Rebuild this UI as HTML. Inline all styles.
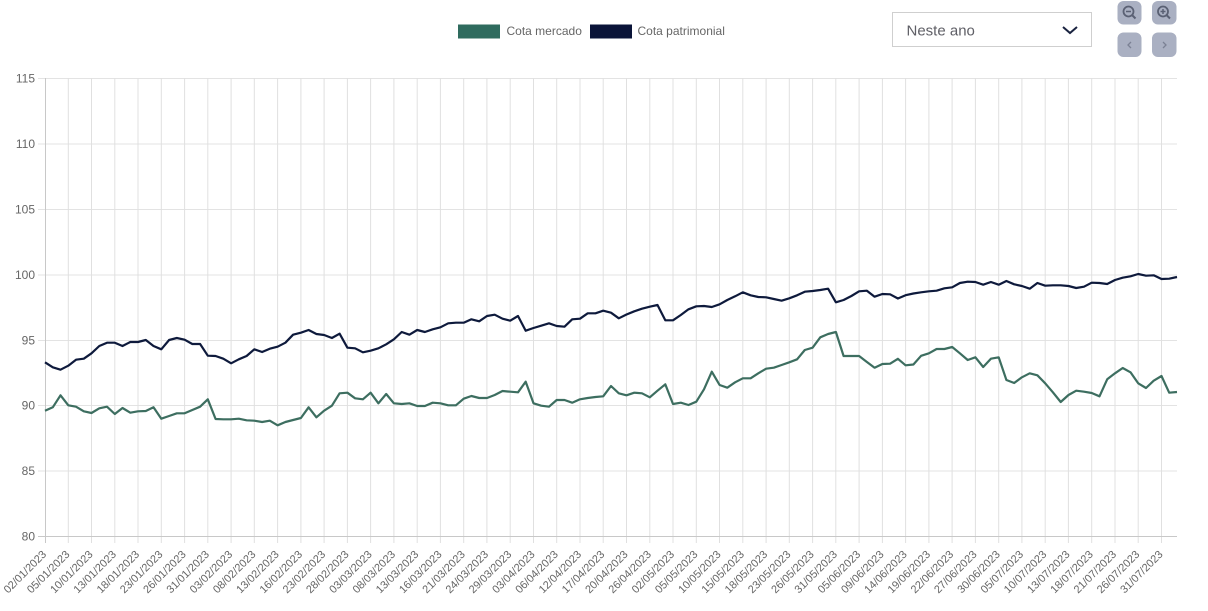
<!DOCTYPE html>
<html>
<head>
<meta charset="utf-8">
<style>
html,body{margin:0;padding:0;background:#fff;width:1208px;height:611px;overflow:hidden;}
svg{display:block;}
text{font-family:"Liberation Sans",sans-serif;}
</style>
</head>
<body>
<svg width="1208" height="611" viewBox="0 0 1208 611" xmlns="http://www.w3.org/2000/svg">
<!-- legend -->
<rect x="458" y="24.5" width="42" height="14" fill="#2f6b5e"/>
<text x="506.5" y="35" font-size="12" fill="#666">Cota mercado</text>
<rect x="590" y="24.5" width="42" height="14" fill="#0a1438"/>
<text x="637.5" y="35" font-size="12" fill="#666">Cota patrimonial</text>

<!-- dropdown -->
<rect x="892.5" y="12.5" width="199" height="34" fill="#fff" stroke="#cfcfcf" stroke-width="1"/>
<text x="906.5" y="35.5" font-size="15" fill="#5f5f66">Neste ano</text>
<polyline points="1063,27 1070,33 1077,27" fill="none" stroke="#1a2340" stroke-width="2"/>

<!-- buttons -->
<rect x="1117.5" y="1" width="24" height="23.5" rx="6" fill="#aab0c2"/>
<rect x="1152" y="1" width="24.5" height="23.5" rx="6" fill="#aab0c2"/>
<rect x="1117.5" y="32.5" width="24" height="24.5" rx="6" fill="#aab0c2"/>
<rect x="1152" y="32.5" width="24.5" height="24.5" rx="6" fill="#aab0c2"/>
<circle cx="1128.5" cy="11.5" r="5" fill="none" stroke="#5b6174" stroke-width="1.8"/>
<line x1="1132" y1="15" x2="1135.5" y2="18.5" stroke="#5b6174" stroke-width="2"/>
<line x1="1126" y1="11.5" x2="1131" y2="11.5" stroke="#5b6174" stroke-width="1.5"/>
<circle cx="1163" cy="11.5" r="5" fill="none" stroke="#5b6174" stroke-width="1.8"/>
<line x1="1166.5" y1="15" x2="1170" y2="18.5" stroke="#5b6174" stroke-width="2"/>
<line x1="1160.5" y1="11.5" x2="1165.5" y2="11.5" stroke="#5b6174" stroke-width="1.5"/>
<line x1="1163" y1="9" x2="1163" y2="14" stroke="#5b6174" stroke-width="1.5"/>
<polyline points="1131,42 1128,45 1131,48" fill="none" stroke="#7b8194" stroke-width="1.3"/>
<polyline points="1163,42 1166,45 1163,48" fill="none" stroke="#7b8194" stroke-width="1.3"/>

<!-- horizontal grid -->
<g stroke="#e3e3e3" stroke-width="1">
<line x1="38" y1="78.5" x2="1177" y2="78.5"/>
<line x1="38" y1="144" x2="1177" y2="144"/>
<line x1="38" y1="209.5" x2="1177" y2="209.5"/>
<line x1="38" y1="275" x2="1177" y2="275"/>
<line x1="38" y1="340.5" x2="1177" y2="340.5"/>
<line x1="38" y1="405.5" x2="1177" y2="405.5"/>
<line x1="38" y1="471" x2="1177" y2="471"/>
</g>
<!-- vertical grid -->
<g stroke="#e0e0e0" stroke-width="1">
<line x1="68.3" y1="78" x2="68.3" y2="543"/>
<line x1="91.5" y1="78" x2="91.5" y2="543"/>
<line x1="114.8" y1="78" x2="114.8" y2="543"/>
<line x1="138" y1="78" x2="138" y2="543"/>
<line x1="161.3" y1="78" x2="161.3" y2="543"/>
<line x1="184.6" y1="78" x2="184.6" y2="543"/>
<line x1="207.8" y1="78" x2="207.8" y2="543"/>
<line x1="231.1" y1="78" x2="231.1" y2="543"/>
<line x1="254.3" y1="78" x2="254.3" y2="543"/>
<line x1="277.6" y1="78" x2="277.6" y2="543"/>
<line x1="300.9" y1="78" x2="300.9" y2="543"/>
<line x1="324.1" y1="78" x2="324.1" y2="543"/>
<line x1="347.4" y1="78" x2="347.4" y2="543"/>
<line x1="370.6" y1="78" x2="370.6" y2="543"/>
<line x1="393.9" y1="78" x2="393.9" y2="543"/>
<line x1="417.2" y1="78" x2="417.2" y2="543"/>
<line x1="440.4" y1="78" x2="440.4" y2="543"/>
<line x1="463.7" y1="78" x2="463.7" y2="543"/>
<line x1="486.9" y1="78" x2="486.9" y2="543"/>
<line x1="510.2" y1="78" x2="510.2" y2="543"/>
<line x1="533.5" y1="78" x2="533.5" y2="543"/>
<line x1="556.7" y1="78" x2="556.7" y2="543"/>
<line x1="580" y1="78" x2="580" y2="543"/>
<line x1="603.2" y1="78" x2="603.2" y2="543"/>
<line x1="626.5" y1="78" x2="626.5" y2="543"/>
<line x1="649.8" y1="78" x2="649.8" y2="543"/>
<line x1="673" y1="78" x2="673" y2="543"/>
<line x1="696.3" y1="78" x2="696.3" y2="543"/>
<line x1="719.5" y1="78" x2="719.5" y2="543"/>
<line x1="742.8" y1="78" x2="742.8" y2="543"/>
<line x1="766.1" y1="78" x2="766.1" y2="543"/>
<line x1="789.3" y1="78" x2="789.3" y2="543"/>
<line x1="812.6" y1="78" x2="812.6" y2="543"/>
<line x1="835.8" y1="78" x2="835.8" y2="543"/>
<line x1="859.1" y1="78" x2="859.1" y2="543"/>
<line x1="882.4" y1="78" x2="882.4" y2="543"/>
<line x1="905.6" y1="78" x2="905.6" y2="543"/>
<line x1="928.9" y1="78" x2="928.9" y2="543"/>
<line x1="952.1" y1="78" x2="952.1" y2="543"/>
<line x1="975.4" y1="78" x2="975.4" y2="543"/>
<line x1="998.7" y1="78" x2="998.7" y2="543"/>
<line x1="1021.9" y1="78" x2="1021.9" y2="543"/>
<line x1="1045.2" y1="78" x2="1045.2" y2="543"/>
<line x1="1068.4" y1="78" x2="1068.4" y2="543"/>
<line x1="1091.7" y1="78" x2="1091.7" y2="543"/>
<line x1="1115" y1="78" x2="1115" y2="543"/>
<line x1="1138.2" y1="78" x2="1138.2" y2="543"/>
<line x1="1161.5" y1="78" x2="1161.5" y2="543"/>
</g>
<!-- axes -->
<line x1="45.5" y1="78" x2="45.5" y2="543" stroke="#c8c8c8" stroke-width="1"/>
<line x1="38" y1="536.5" x2="1177" y2="536.5" stroke="#c8c8c8" stroke-width="1"/>

<!-- y labels -->
<g font-size="12" fill="#666" text-anchor="end">
<text x="35" y="82.5">115</text>
<text x="35" y="148">110</text>
<text x="35" y="213.5">105</text>
<text x="35" y="279">100</text>
<text x="35" y="344.5">95</text>
<text x="35" y="409.5">90</text>
<text x="35" y="475">85</text>
<text x="35" y="540.5">80</text>
</g>

<!-- x labels -->
<g font-size="11" fill="#666" text-anchor="end">
<text transform="translate(47,555) rotate(-45)">02/01/2023</text>
<text transform="translate(70.3,555) rotate(-45)">05/01/2023</text>
<text transform="translate(93.5,555) rotate(-45)">10/01/2023</text>
<text transform="translate(116.8,555) rotate(-45)">13/01/2023</text>
<text transform="translate(140,555) rotate(-45)">18/01/2023</text>
<text transform="translate(163.3,555) rotate(-45)">23/01/2023</text>
<text transform="translate(186.6,555) rotate(-45)">26/01/2023</text>
<text transform="translate(209.8,555) rotate(-45)">31/01/2023</text>
<text transform="translate(233.1,555) rotate(-45)">03/02/2023</text>
<text transform="translate(256.3,555) rotate(-45)">08/02/2023</text>
<text transform="translate(279.6,555) rotate(-45)">13/02/2023</text>
<text transform="translate(302.9,555) rotate(-45)">16/02/2023</text>
<text transform="translate(326.1,555) rotate(-45)">23/02/2023</text>
<text transform="translate(349.4,555) rotate(-45)">28/02/2023</text>
<text transform="translate(372.6,555) rotate(-45)">03/03/2023</text>
<text transform="translate(395.9,555) rotate(-45)">08/03/2023</text>
<text transform="translate(419.2,555) rotate(-45)">13/03/2023</text>
<text transform="translate(442.4,555) rotate(-45)">16/03/2023</text>
<text transform="translate(465.7,555) rotate(-45)">21/03/2023</text>
<text transform="translate(488.9,555) rotate(-45)">24/03/2023</text>
<text transform="translate(512.2,555) rotate(-45)">29/03/2023</text>
<text transform="translate(535.5,555) rotate(-45)">03/04/2023</text>
<text transform="translate(558.7,555) rotate(-45)">06/04/2023</text>
<text transform="translate(582,555) rotate(-45)">12/04/2023</text>
<text transform="translate(605.2,555) rotate(-45)">17/04/2023</text>
<text transform="translate(628.5,555) rotate(-45)">20/04/2023</text>
<text transform="translate(651.8,555) rotate(-45)">26/04/2023</text>
<text transform="translate(675,555) rotate(-45)">02/05/2023</text>
<text transform="translate(698.3,555) rotate(-45)">05/05/2023</text>
<text transform="translate(721.5,555) rotate(-45)">10/05/2023</text>
<text transform="translate(744.8,555) rotate(-45)">15/05/2023</text>
<text transform="translate(768.1,555) rotate(-45)">18/05/2023</text>
<text transform="translate(791.3,555) rotate(-45)">23/05/2023</text>
<text transform="translate(814.6,555) rotate(-45)">26/05/2023</text>
<text transform="translate(837.8,555) rotate(-45)">31/05/2023</text>
<text transform="translate(861.1,555) rotate(-45)">05/06/2023</text>
<text transform="translate(884.4,555) rotate(-45)">09/06/2023</text>
<text transform="translate(907.6,555) rotate(-45)">14/06/2023</text>
<text transform="translate(930.9,555) rotate(-45)">19/06/2023</text>
<text transform="translate(954.1,555) rotate(-45)">22/06/2023</text>
<text transform="translate(977.4,555) rotate(-45)">27/06/2023</text>
<text transform="translate(1000.7,555) rotate(-45)">30/06/2023</text>
<text transform="translate(1023.9,555) rotate(-45)">05/07/2023</text>
<text transform="translate(1047.2,555) rotate(-45)">10/07/2023</text>
<text transform="translate(1070.4,555) rotate(-45)">13/07/2023</text>
<text transform="translate(1093.7,555) rotate(-45)">18/07/2023</text>
<text transform="translate(1117,555) rotate(-45)">21/07/2023</text>
<text transform="translate(1140.2,555) rotate(-45)">26/07/2023</text>
<text transform="translate(1163.5,555) rotate(-45)">31/07/2023</text>
</g>

<!-- Cota patrimonial -->
<polyline fill="none" stroke="#0e1a3c" stroke-width="2.2" stroke-linejoin="round" points="45,362.3 52.8,367.3 60.5,369.7 68.3,365.7 76.0,359.7 83.8,358.7 91.5,353.3 99.3,346 107.0,342.7 114.8,342.7 122.5,346 130.3,342 138.0,342 145.8,340 153.5,346 161.3,349.3 169.1,340 176.8,338 184.6,339.7 192.3,344 200.1,344 207.8,355.7 215.6,356 223.3,358.7 231.1,363.3 238.8,359.3 246.6,356 254.3,349.3 262.1,352 269.8,348.7 277.6,346.7 285.4,342.7 293.1,334.7 300.9,332.7 308.6,330 316.4,334 324.1,335 331.9,338 339.6,333.7 347.4,347.7 355.1,348.3 362.9,352.3 370.6,350.7 378.4,348.3 386.2,344.3 393.9,339.3 401.7,332 409.4,334.7 417.2,330 424.9,332 432.7,329.3 440.4,327.3 448.2,323.3 455.9,322.7 463.7,322.7 471.4,319.3 479.2,321.3 487.0,316 494.7,314.7 502.5,318.7 510.2,320.7 518.0,316 525.7,330.7 533.5,328 541.2,325.7 549.0,323.3 556.7,326 564.5,326.7 572.2,319.3 580.0,318.7 587.7,313.3 595.5,313.3 603.2,310.7 611.0,312.7 618.8,318.3 626.5,314.5 634.3,311.3 642.0,308.7 649.8,306.7 657.5,305 665.3,320.3 673.0,320.3 680.8,315 688.5,309.3 696.3,306.3 704.0,306 711.8,307 719.6,304.3 727.3,300 735.1,296.3 742.8,292.3 750.6,295.3 758.3,297 766.1,297.3 773.8,299 781.6,300.7 789.3,298.3 797.1,295.3 804.8,291.7 812.6,291 820.3,290 828.1,288.7 835.9,302.3 843.6,300 851.4,296 859.1,291.3 866.9,290.7 874.6,296.7 882.4,294 890.1,294.3 897.9,298.5 905.6,295.2 913.4,293.5 921.1,292.3 928.9,291.3 936.6,290.7 944.4,288.3 952.2,287.3 959.9,283 967.7,281.7 975.4,282 983.2,284.7 990.9,282 998.7,284.7 1006.4,281 1014.2,284.3 1021.9,286 1029.7,288.7 1037.4,283 1045.2,285.7 1052.9,285.3 1060.7,285.3 1068.5,286 1076.2,288 1084.0,286.7 1091.7,282.7 1099.5,283 1107.2,284 1115.0,280 1122.7,277.7 1130.5,276.3 1138.2,274 1146.0,275.7 1153.7,275.3 1161.5,279 1169.2,278.7 1177.0,277"/>

<!-- Cota mercado -->
<polyline fill="none" stroke="#3d6e60" stroke-width="2.2" stroke-linejoin="round" points="45,410.7 52.8,407.3 60.5,395.3 68.3,405.3 76.0,406.7 83.8,411.3 91.5,413 99.3,408.3 107.0,406.7 114.8,414 122.5,408 130.3,412.7 138.0,411.3 145.8,411 153.5,407.3 161.3,418.7 169.1,416 176.8,413.3 184.6,413.3 192.3,410 200.1,406.7 207.8,399.3 215.6,419 223.3,419.3 231.1,419.3 238.8,418.7 246.6,420.3 254.3,420.7 262.1,422 269.8,420.7 277.6,425.3 285.4,422 293.1,420 300.9,418 308.6,407.3 316.4,417.3 324.1,410.7 331.9,405.7 339.6,393.3 347.4,392.7 355.1,398.3 362.9,399.3 370.6,392.7 378.4,403.3 386.2,394 393.9,403.3 401.7,404 409.4,403.3 417.2,406 424.9,406 432.7,402.7 440.4,403.3 448.2,405.3 455.9,405.3 463.7,398.7 471.4,396 479.2,398 487.0,398 494.7,395 502.5,391 510.2,391.7 518.0,392.3 525.7,381.7 533.5,403.3 541.2,405.7 549.0,406.7 556.7,400 564.5,400 572.2,402.7 580.0,399.3 587.7,398 595.5,397 603.2,396.3 611.0,386 618.8,393.3 626.5,395.3 634.3,392.7 642.0,393.3 649.8,397.3 657.5,390.7 665.3,384.3 673.0,404 680.8,402.7 688.5,405 696.3,401.7 704.0,389.3 711.8,371.7 719.6,385 727.3,387.7 735.1,382.3 742.8,378.3 750.6,378.3 758.3,373.3 766.1,368.7 773.8,367.7 781.6,365 789.3,362.3 797.1,359.3 804.8,350 812.6,347.7 820.3,337.3 828.1,334 835.9,332 843.6,356 851.4,356 859.1,356 866.9,362 874.6,367.7 882.4,364 890.1,363.7 897.9,358.8 905.6,365.3 913.4,364.5 921.1,355.8 928.9,353.3 936.6,349 944.4,349 952.2,347 959.9,353.3 967.7,360 975.4,357.3 983.2,367 990.9,358.7 998.7,357.3 1006.4,380 1014.2,383 1021.9,377.3 1029.7,373.3 1037.4,375.3 1045.2,383.3 1052.9,392.3 1060.7,402 1068.5,395 1076.2,390.7 1084.0,391.7 1091.7,393 1099.5,396.3 1107.2,379.3 1115.0,373.3 1122.7,368 1130.5,372.3 1138.2,383.3 1146.0,388 1153.7,380.7 1161.5,376 1169.2,392.7 1177.0,392"/>
</svg>
</body>
</html>
